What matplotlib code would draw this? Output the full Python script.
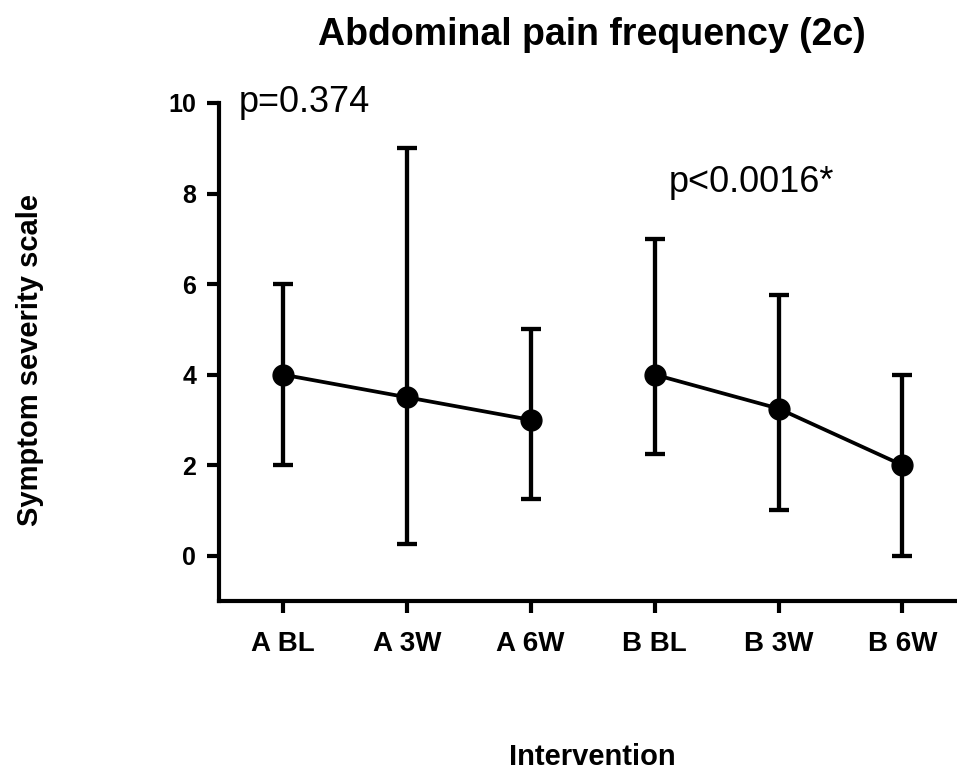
import matplotlib
matplotlib.use('Agg')
import matplotlib.pyplot as plt
import numpy as np

# data
groups = ['A BL', 'A 3W', 'A 6W', 'B BL', 'B 3W', 'B 6W']
median = [4, 3.5, 3, 4, 3.25, 2]
low = [2, 0.25, 1.25, 2.25, 1, 0]
high = [6, 9, 5, 7, 5.75, 4]
p_texts = ['p=0.374', 'p<0.0016*']

plt.rcParams['font.family'] = ['Liberation Sans', 'DejaVu Sans']

fig = plt.figure(figsize=(9.57, 7.73), dpi=100)
ax = fig.add_axes([0.2288, 0.2225, 0.7712, 0.6443])

x = np.arange(len(groups))
med = np.array(median)
yerr = [med - np.array(low), np.array(high) - med]

# two separate lines, A and B
for s in (slice(0, 3), slice(3, 6)):
    ax.errorbar(x[s], med[s], yerr=[yerr[0][s], yerr[1][s]], color='black',
                marker='o', markersize=15, linewidth=2.7, elinewidth=3.1,
                capsize=7.5, capthick=3.1, clip_on=False)

ax.set_xlim(-0.516, 5.44)
ax.set_ylim(-1, 10)
ax.set_yticks([0, 2, 4, 6, 8, 10])
ax.set_xticks(x)
ax.set_xticklabels(groups, fontsize=20, fontweight='bold')
for t in ax.get_yticklabels():
    t.set_fontsize(18)
    t.set_fontweight('bold')
ax.tick_params(axis='both', length=8.5, width=3.0, direction='out', pad=8)
ax.tick_params(axis='x', pad=13)

for side in ('top', 'right'):
    ax.spines[side].set_visible(False)
for side in ('left', 'bottom'):
    ax.spines[side].set_linewidth(3.0)

ax.text(-0.36, 10, p_texts[0], fontsize=26, va='center', ha='left')
ax.text(3.11, 8.25, p_texts[1], fontsize=26, va='center', ha='left')

fig.text(0.618, 0.955, 'Abdominal pain frequency (2c)', fontsize=27,
         fontweight='bold', ha='center', va='center')
fig.text(0.031, 0.534, 'Symptom severity scale', fontsize=21,
         fontweight='bold', rotation=90, ha='center', va='center')
fig.text(0.619, 0.021, 'Intervention', fontsize=21, fontweight='bold',
         ha='center', va='center')

fig.savefig('out.png', dpi=100)
